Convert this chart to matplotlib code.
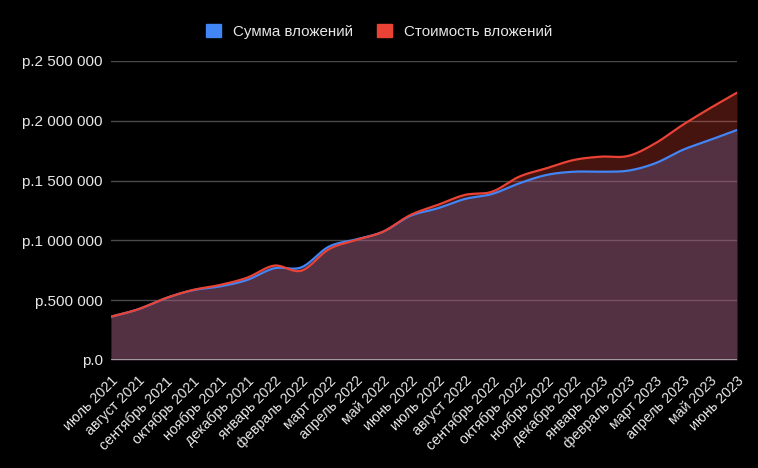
import numpy as np
import matplotlib
matplotlib.use("Agg")
import matplotlib.pyplot as plt
from matplotlib.ticker import FuncFormatter, MultipleLocator

plt.rcParams['font.family'] = ['Liberation Sans', 'DejaVu Sans']

months = ["июль 2021", "август 2021", "сентябрь 2021", "октябрь 2021", "ноябрь 2021",
          "декабрь 2021", "январь 2022", "февраль 2022", "март 2022", "апрель 2022",
          "май 2022", "июнь 2022", "июль 2022", "август 2022", "сентябрь 2022",
          "октябрь 2022", "ноябрь 2022", "декабрь 2022", "январь 2023", "февраль 2023",
          "март 2023", "апрель 2023", "май 2023", "июнь 2023"]

# сумма вложений
invested = [362000, 424000, 516000, 583000, 615000, 669000, 767000, 775000, 947000,
            1008000, 1073000, 1205000, 1268000, 1346000, 1388000, 1477000, 1547000,
            1574000, 1574000, 1583000, 1645000, 1756000, 1839000, 1923000]
# стоимость вложений
value = [362000, 424000, 516000, 585000, 627000, 688000, 789000, 747000, 925000,
         1003000, 1073000, 1212000, 1296000, 1380000, 1407000, 1533000, 1603000,
         1672000, 1700000, 1706000, 1812000, 1965000, 2104000, 2235000]

blue = "#4285f4"
red = "#ea4335"


def smooth(y, n=20):
    # catmull-rom, только для отрисовки плавной кривой
    y = np.asarray(y, float)
    p = np.concatenate([[2 * y[0] - y[1]], y, [2 * y[-1] - y[-2]]])
    xs, ys = [], []
    t = np.linspace(0, 1, n, endpoint=False)
    for i in range(len(y) - 1):
        p0, p1, p2, p3 = p[i], p[i + 1], p[i + 2], p[i + 3]
        seg = 0.5 * ((2 * p1) + (-p0 + p2) * t + (2 * p0 - 5 * p1 + 4 * p2 - p3) * t ** 2
                     + (-p0 + 3 * p1 - 3 * p2 + p3) * t ** 3)
        xs.append(i + t)
        ys.append(seg)
    xs.append([len(y) - 1])
    ys.append([y[-1]])
    return np.concatenate(xs), np.concatenate(ys)


fig = plt.figure(figsize=(7.58, 4.68), dpi=100, facecolor="black")
ax = fig.add_axes([0.1464, 0.2308, 0.8259, 0.6389], facecolor="black")

x = np.arange(len(months))
xb, yb = smooth(invested)
xr, yr = smooth(value)

ax.fill_between(xb, 0, yb, color=blue, alpha=0.3, lw=0, zorder=2)
ax.fill_between(xr, 0, yr, color=red, alpha=0.3, lw=0, zorder=2)
ax.plot(xb, yb, color=blue, lw=1.6, zorder=3, solid_capstyle="round")
ax.plot(xr, yr, color=red, lw=1.6, zorder=3, solid_capstyle="round")

ax.set_xlim(0, len(months) - 1)
ax.set_ylim(0, 2500000)
ax.yaxis.set_major_locator(MultipleLocator(500000))
ax.yaxis.set_major_formatter(FuncFormatter(lambda v, p: "р." + f"{int(v):,}".replace(",", " ")))
ax.grid(axis="y", color="#4a4a4a", lw=1, zorder=1)
ax.axhline(0, color="#b0b0b0", lw=1.2, zorder=4)

ax.set_xticks(x)
ax.set_xticklabels(months, rotation=45, ha="right", rotation_mode="anchor")
ax.tick_params(axis="both", length=0, colors="#e8e8e8")
ax.tick_params(axis="y", pad=6, labelsize=11)
ax.tick_params(axis="x", pad=10, labelsize=10.3)
for s in ax.spines.values():
    s.set_visible(False)

h1 = plt.Rectangle((0, 0), 1, 1, color=blue)
h2 = plt.Rectangle((0, 0), 1, 1, color=red)
fig.legend([h1, h2], ["Сумма вложений", "Стоимость вложений"], loc="center",
           bbox_to_anchor=(0.5, 0.933), ncol=2, frameon=False, fontsize=10.9,
           labelcolor="#e8e8e8", handlelength=1.0, handleheight=1.0,
           handletextpad=0.8, columnspacing=1.6)

fig.savefig("out.png", dpi=100, facecolor="black")
